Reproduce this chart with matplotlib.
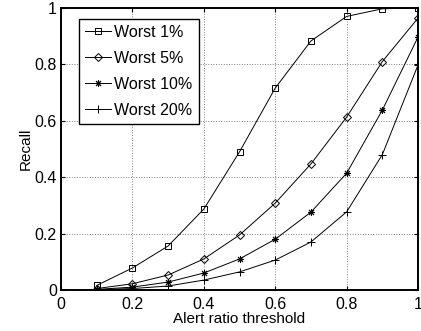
import matplotlib
matplotlib.use("Agg")
import matplotlib.pyplot as plt

plt.rcParams["font.family"] = ["Liberation Sans", "DejaVu Sans"]

thresholds = [0.1, 0.2, 0.3, 0.4, 0.5, 0.6, 0.7, 0.8, 0.9, 1.0]
worst_1 = [0.016, 0.078, 0.156, 0.287, 0.49, 0.716, 0.883, 0.97, 0.997, 1.0]
worst_5 = [0.005, 0.022, 0.053, 0.11, 0.195, 0.308, 0.447, 0.613, 0.81, 0.964]
worst_10 = [0.002, 0.01, 0.028, 0.06, 0.11, 0.18, 0.276, 0.414, 0.638, 0.897]
worst_20 = [0.001, 0.005, 0.014, 0.035, 0.064, 0.106, 0.17, 0.277, 0.48, 0.798]

fig = plt.figure(figsize=(4.21, 3.31), dpi=100)
ax = fig.add_axes([0.145, 0.124, 0.848, 0.852])

style = dict(color="black", linewidth=0.7, markersize=5, markeredgewidth=0.7)
ax.plot(thresholds, worst_1, marker="s", mfc="none", label="Worst 1%", **style)
ax.plot(thresholds, worst_5, marker="D", mfc="none", label="Worst 5%", **dict(style, markersize=4.5))
ax.plot(thresholds, worst_10, marker=(8, 2, 0), label="Worst 10%", **dict(style, markersize=5))
ax.plot(thresholds, worst_20, marker="+", label="Worst 20%", **dict(style, markersize=6))

ax.set_xlim(0, 1)
ax.set_ylim(0, 1)
ax.set_xticks([0, 0.2, 0.4, 0.6, 0.8, 1])
ax.set_yticks([0, 0.2, 0.4, 0.6, 0.8, 1])
ax.set_xticklabels(["0", "0.2", "0.4", "0.6", "0.8", "1"])
ax.set_yticklabels(["0", "0.2", "0.4", "0.6", "0.8", "1"])
ax.tick_params(direction="in", top=True, right=True, labelsize=11.5, length=3, pad=3)
ax.tick_params(axis="x", pad=5)
ax.grid(True, linestyle=":", color="gray", linewidth=0.7)
for s in ax.spines.values():
    s.set_linewidth(1.4)

ax.set_xlabel("Alert ratio threshold", fontsize=11, labelpad=0)
ax.set_ylabel("Recall", fontsize=11, labelpad=1)

leg = ax.legend(loc="upper left", bbox_to_anchor=(0.05, 0.962), fontsize=11.5,
                fancybox=False, framealpha=1, edgecolor="black",
                handlelength=1.6, handletextpad=0.2, borderpad=0.4, labelspacing=0.68,
                borderaxespad=0)
leg.get_frame().set_linewidth(1.0)

fig.savefig("out.png", dpi=100)
